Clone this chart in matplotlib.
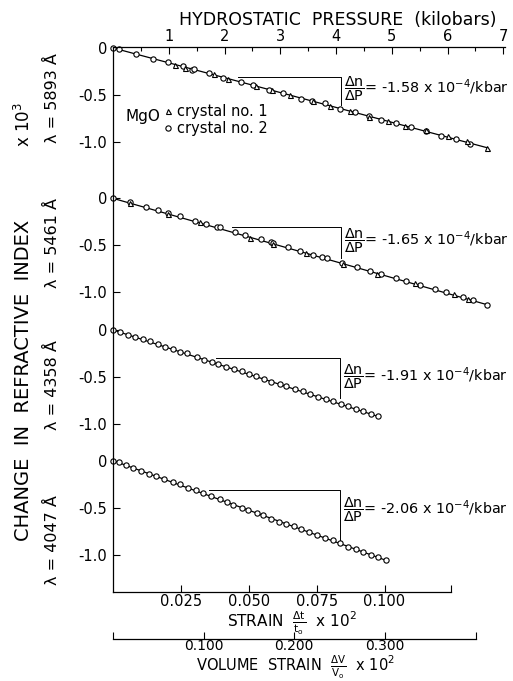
import matplotlib
matplotlib.use('Agg')
import matplotlib.pyplot as plt

plt.rcParams['font.family'] = ['DejaVu Sans']
plt.rcParams['mathtext.fontset'] = 'dejavusans'

# wavelengths (angstrom) and fitted slopes (x 10^-4 / kbar)
wavelengths = ['5893', '5461', '4358', '4047']
slopes = ['-1.58', '-1.65', '-1.91', '-2.06']

# lambda = 5893 A
p1_c2 = [0.00, 0.10, 0.42, 0.71, 0.98, 1.26, 1.41, 1.45, 1.72, 1.97, 2.29, 2.51, 2.80, 3.05,
         3.38, 3.56, 3.80, 4.07, 4.34, 4.59, 4.81, 5.08, 5.35, 5.62, 5.89, 6.15, 6.40]
n1_c2 = [0.00, -0.01, -0.06, -0.12, -0.15, -0.19, -0.23, -0.22, -0.27, -0.32, -0.36, -0.39, -0.45, -0.48,
         -0.54, -0.56, -0.59, -0.65, -0.68, -0.72, -0.77, -0.80, -0.84, -0.88, -0.94, -0.97, -1.02]
p1_c1 = [1.11, 1.30, 1.81, 2.06, 2.56, 2.86, 3.17, 3.58, 3.89, 4.25, 4.59, 4.93, 5.23, 5.62, 6.00, 6.34, 6.70]
n1_c1 = [-0.18, -0.21, -0.28, -0.33, -0.40, -0.45, -0.50, -0.56, -0.62, -0.67, -0.73, -0.78, -0.83,
         -0.87, -0.94, -0.99, -1.06]

# lambda = 5461 A
p2_c2 = [0.00, 0.30, 0.60, 0.81, 0.99, 1.20, 1.47, 1.67, 1.86, 1.92, 2.19, 2.37, 2.66, 2.84, 2.87, 3.14,
         3.35, 3.59, 3.74, 3.83, 4.10, 4.37, 4.61, 4.81, 5.08, 5.26, 5.50, 5.77, 5.98, 6.27, 6.46, 6.70]
n2_c2 = [0.00, -0.04, -0.09, -0.12, -0.16, -0.19, -0.24, -0.27, -0.30, -0.31, -0.36, -0.39, -0.43, -0.46,
         -0.48, -0.52, -0.56, -0.60, -0.62, -0.63, -0.69, -0.73, -0.77, -0.80, -0.85, -0.88, -0.92, -0.96,
         -1.00, -1.05, -1.08, -1.13]
p2_c1 = [0.30, 0.99, 1.56, 2.46, 2.87, 3.47, 4.13, 4.74, 5.41, 6.11, 6.37]
n2_c1 = [-0.05, -0.17, -0.25, -0.42, -0.49, -0.58, -0.70, -0.80, -0.90, -1.02, -1.07]

# lambda = 4358 A
p3 = [0.00, 0.13, 0.27, 0.39, 0.53, 0.66, 0.81, 0.93, 1.07, 1.20, 1.33, 1.50, 1.63, 1.77, 1.88, 2.02, 2.17, 2.31,
      2.44, 2.57, 2.70, 2.84, 2.99, 3.11, 3.26, 3.40, 3.54, 3.68, 3.82, 3.95, 4.08, 4.22, 4.35, 4.48, 4.62, 4.75]
n3 = [0.00, -0.02, -0.05, -0.08, -0.10, -0.12, -0.15, -0.18, -0.20, -0.23, -0.25, -0.29, -0.32, -0.34, -0.36,
      -0.39, -0.42, -0.44, -0.47, -0.49, -0.52, -0.55, -0.57, -0.60, -0.63, -0.65, -0.68, -0.71, -0.73, -0.76,
      -0.79, -0.81, -0.84, -0.86, -0.89, -0.92]

# lambda = 4047 A
p4 = [0.00, 0.10, 0.23, 0.36, 0.51, 0.65, 0.78, 0.91, 1.07, 1.20, 1.35, 1.49, 1.62, 1.76, 1.91, 2.04, 2.16, 2.31,
      2.43, 2.58, 2.69, 2.84, 2.98, 3.11, 3.24, 3.38, 3.52, 3.65, 3.80, 3.94, 4.07, 4.22, 4.35, 4.48, 4.62, 4.75, 4.89]
n4 = [0.00, -0.02, -0.05, -0.08, -0.11, -0.14, -0.16, -0.20, -0.23, -0.25, -0.29, -0.31, -0.35, -0.38, -0.41,
      -0.44, -0.47, -0.50, -0.53, -0.56, -0.58, -0.62, -0.65, -0.67, -0.70, -0.73, -0.76, -0.79, -0.82, -0.85,
      -0.88, -0.92, -0.94, -0.97, -1.00, -1.03, -1.06]

# end points of the fitted lines (pressure, change)
fit_end_p = [6.70, 6.70, 4.75, 4.89]
fit_end_n = [-1.06, -1.13, -0.92, -1.06]

# slope guide: horizontal start, vertical x, top and bottom levels
guide_x0 = [2.24, 2.13, 1.85, 1.72]
guide_x1 = [4.09, 4.09, 4.07, 4.07]
guide_top = [-0.31, -0.30, -0.30, -0.31]
guide_bot = [-0.61, -0.63, -0.72, -0.84]
label_y = [-0.43, -0.45, -0.50, -0.52]

pressure_ticks = [1, 2, 3, 4, 5, 6, 7]
strain_ticks = [0.025, 0.050, 0.075, 0.100]
volume_ticks = [0.100, 0.200, 0.300]

# layout
offsets = [0.0, -1.6, -3.0, -4.39]
k_strain = 48.7   # kbar per unit of (dt/t0 x 10^2) on the drawing
strain_end = 0.1246
volume_end = 0.401

fig = plt.figure(figsize=(5.13, 6.81), dpi=100)
W, H = 513, 681
ax = fig.add_axes([113 / W, 1 - 592 / H, 392 / W, 545 / H])
ax.set_xlim(0, 7.03)
ax.set_ylim(-5.788, 0.01)

mk = dict(linestyle='none', color='black', markerfacecolor='white', markeredgewidth=0.8, clip_on=False)

panels = [(p1_c2, n1_c2, p1_c1, n1_c1), (p2_c2, n2_c2, p2_c1, n2_c1), (p3, n3, [], []), (p4, n4, [], [])]
for i, (pc, nc, pt, nt) in enumerate(panels):
    off = offsets[i]
    ax.plot([0, fit_end_p[i]], [off, fit_end_n[i] + off], color='black', lw=0.9, clip_on=False)
    h2, = ax.plot(pc, [v + off for v in nc], marker='o', markersize=3.8, label='crystal no. 2', **mk)
    if pt:
        h1, = ax.plot(pt, [v + off for v in nt], marker='^', markersize=3.6, label='crystal no. 1', **mk)
    if i == 0:
        hand = [h1, h2]
    # slope guide
    ax.plot([guide_x0[i], guide_x1[i], guide_x1[i]],
            [guide_top[i] + off, guide_top[i] + off, guide_bot[i] + off], color='black', lw=0.7)
    ax.text(guide_x1[i] + 0.05, label_y[i] + off,
            r'$\dfrac{\Delta\mathrm{n}}{\Delta\mathrm{P}}$= ' + slopes[i] + r' x 10$^{-4}$/kbar',
            fontsize=10.4, ha='left', va='center')

# legend
ax.text(0.22, -0.73, 'MgO', fontsize=11, ha='left', va='center')
ax.legend(handles=hand, loc='upper left', bbox_to_anchor=(0.13, 0.895), frameon=False, fontsize=10.5,
          handlelength=0.6, handletextpad=0.3, labelspacing=0.15, borderpad=0, borderaxespad=0)

# y ticks (three per panel)
yt, yl = [], []
for off in offsets:
    for v, s in zip([0, -0.5, -1.0], ['0', '-0.5', '-1.0']):
        yt.append(off + v)
        yl.append(s)
ax.set_yticks(yt)
ax.set_yticklabels(yl, fontsize=10.5)
ax.tick_params(axis='y', direction='in', length=5, width=0.8, pad=4)

# top: hydrostatic pressure
ax.xaxis.tick_top()
ax.set_xticks(pressure_ticks)
ax.set_xticklabels([str(t) for t in pressure_ticks], fontsize=10.5)
ax.set_xticks([t - 0.5 for t in pressure_ticks], minor=True)
ax.tick_params(axis='x', which='major', direction='in', length=5, width=0.8, pad=2)
ax.tick_params(axis='x', which='minor', direction='in', length=3, width=0.8)
ax.spines['right'].set_visible(False)
ax.spines['bottom'].set_visible(False)
for s in ['left', 'top']:
    ax.spines[s].set_linewidth(0.9)

# bottom: strain
sec = ax.secondary_xaxis('bottom', functions=(lambda p: p / k_strain, lambda s: s * k_strain))
sec.set_xticks(strain_ticks + [strain_end])
sec.set_xticklabels(['%.3f' % t for t in strain_ticks] + [''], fontsize=10.5)
sec.tick_params(direction='in', length=5, width=0.8, pad=1.5)
sec.spines['bottom'].set_bounds(0, strain_end)
sec.spines['bottom'].set_linewidth(0.9)

# below: volume strain
vol = ax.secondary_xaxis(-47 / 545, functions=(lambda p: p / (k_strain / 3), lambda v: v * k_strain / 3))
vol.set_xticks([0] + volume_ticks + [volume_end])
vol.set_xticklabels([''] + ['%.3f' % t for t in volume_ticks] + [''], fontsize=10)
vol.tick_params(direction='in', length=5, width=0.8, pad=0)
vol.spines['bottom'].set_bounds(0, volume_end)
vol.spines['bottom'].set_linewidth(0.9)

# axis titles
fig.text(338 / W, 1 - 20 / H, 'HYDROSTATIC  PRESSURE  (kilobars)', fontsize=12.5, ha='center', va='center')
fig.text(292 / W, 1 - 623 / H, r'STRAIN  $\frac{\Delta\mathrm{t}}{\mathrm{t_o}}$  x 10$^2$', fontsize=11,
         ha='center', va='center')
fig.text(296 / W, 1 - 667 / H, r'VOLUME  STRAIN  $\frac{\Delta\mathrm{V}}{\mathrm{V_o}}$  x 10$^2$', fontsize=10.5,
         ha='center', va='center')
fig.text(24 / W, 1 - 380 / H, 'CHANGE  IN  REFRACTIVE  INDEX', fontsize=14, rotation=90,
         ha='center', va='center')
fig.text(24 / W, 1 - 125 / H, r'x 10$^3$', fontsize=12, rotation=90, ha='center', va='center')
lam_y = [98, 243, 385, 540]
for w, y in zip(wavelengths, lam_y):
    fig.text(52 / W, 1 - y / H, 'λ = ' + w + ' Å', fontsize=11.5, rotation=90, ha='center', va='center')

fig.savefig('out.png', dpi=100)
